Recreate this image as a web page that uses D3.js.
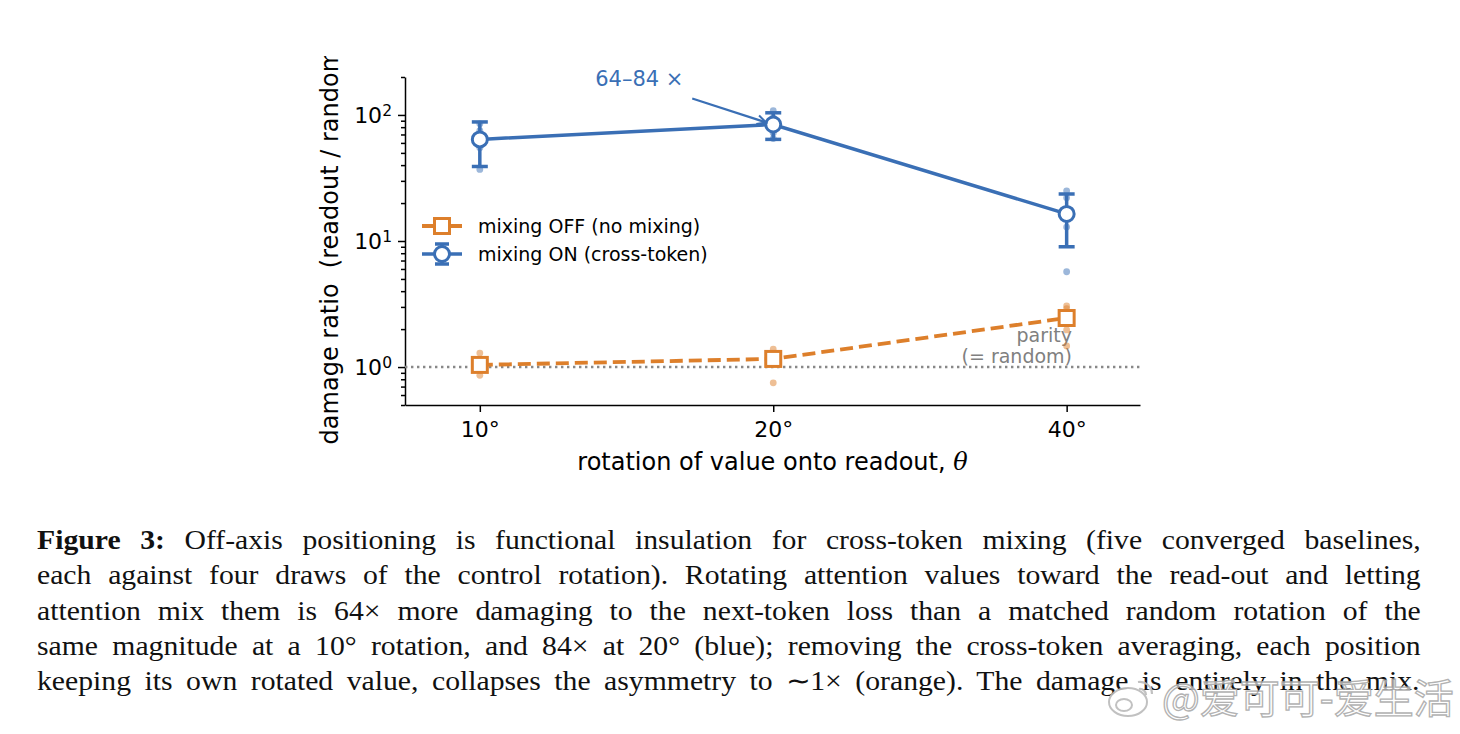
<!DOCTYPE html>
<meta charset="utf-8">
<style>
body { margin: 0; background: #fff; }
svg text { font-family: "DejaVu Sans", sans-serif; }
.caption { font-family: "Liberation Serif", serif; font-size: 27px; fill: #111; }
.axis path, .axis line { stroke: #000; stroke-width: 1.5px; }
.axis text { font-family: "DejaVu Sans", sans-serif; font-size: 22px; fill: #000; }
</style>
<svg width="1460" height="734"></svg>
<script src="https://d3js.org/d3.v7.min.js"></script>
<script>

var angles = ["10°", "20°", "40°"];
var mixOnMean = [64, 84, 16.4];
var mixOnLow = [39, 64, 9.0];
var mixOnHigh = [88, 104, 23.6];
var mixOnRuns = [[37, 55, 68, 75, 85], [108, 95, 80, 72, 65], [25, 22, 17, 12.9, 5.7]];
var mixOffMean = [1.04, 1.16, 2.45];
var mixOffRuns = [[1.29, 1.1, 1.0, 0.95, 0.86], [1.39, 1.2, 1.15, 1.1, 0.75], [3.05, 2.9, 2.6, 1.97, 1.47]];
var yMajor = [1, 10, 100];
var yExp = ["0", "1", "2"];
var legendLabels = ["mixing OFF (no mixing)", "mixing ON (cross-token)"];

var captionLines = [
  ["Figure 3:", " Off-axis positioning is functional insulation for cross-token mixing (five converged baselines,"],
  ["", "each against four draws of the control rotation). Rotating attention values toward the read-out and letting"],
  ["", "attention mix them is 64× more damaging to the next-token loss than a matched random rotation of the"],
  ["", "same magnitude at a 10° rotation, and 84× at 20° (blue); removing the cross-token averaging, each position"],
  ["", "keeping its own rotated value, collapses the asymmetry to ∼1× (orange). The damage is entirely in the mix."]
];

var blue = "#3a6fb5",
    orange = "#dd7f2b";

var svg = d3.select("svg"),
    plotLeft = 405, plotRight = 1140, plotTop = 77, plotBottom = 405;

var x = d3.scaleLinear().domain([-0.255, 2.25]).range([plotLeft, plotRight]);
var y = d3.scaleLog().domain([0.5, 200]).range([plotBottom, plotTop]);

// minor ticks on the log axis
var minor = [];
[0.1, 1, 10, 100].forEach(function(b) {
  for (var k = 2; k <= 9; k++) {
    var v = b * k;
    if (v >= 0.5 && v <= 200) minor.push(v);
  }
});

svg.append("g").attr("class", "axis")
  .attr("transform", "translate(" + plotLeft + ",0)")
  .call(d3.axisLeft(y).tickValues(minor).tickSize(4).tickFormat(""))
  .select(".domain").remove();

var yAxis = svg.append("g").attr("class", "axis")
  .attr("transform", "translate(" + plotLeft + ",0)")
  .call(d3.axisLeft(y).tickValues(yMajor).tickSize(7).tickSizeOuter(0).tickFormat(""));

yAxis.selectAll(".tick").append("text")
  .attr("x", -13).attr("dy", "0.35em").attr("text-anchor", "end")
  .each(function(d, i) {
    var t = d3.select(this);
    t.append("tspan").text("10");
    t.append("tspan").attr("dy", "-0.45em").style("font-size", "15.5px").text(yExp[i]);
  });

var xAxis = svg.append("g").attr("class", "axis")
  .attr("transform", "translate(0," + plotBottom + ")")
  .call(d3.axisBottom(x).tickValues([0, 1, 2]).tickSize(7).tickSizeOuter(0)
    .tickFormat(function(i) { return angles[i]; }));
xAxis.selectAll(".tick text").attr("dy", "1.0em");

// axis labels
svg.append("text")
  .attr("x", (plotLeft + plotRight) / 2).attr("y", 470)
  .attr("text-anchor", "middle").style("font-size", "24px")
  .html('rotation of value onto readout, <tspan font-style="italic" font-family="DejaVu Serif">θ</tspan>');

svg.append("clipPath").attr("id", "topclip")
  .append("rect").attr("x", 0).attr("y", 56).attr("width", 1460).attr("height", 700);

svg.append("g").attr("clip-path", "url(#topclip)")
  .append("text")
  .attr("transform", "translate(338," + ((plotTop + plotBottom) / 2 + 1) + ") rotate(-90)")
  .attr("text-anchor", "middle").style("font-size", "24px")
  .style("white-space", "pre")
  .text("damage ratio  (readout / random)");

// parity line
svg.append("line")
  .attr("x1", plotLeft).attr("x2", plotRight)
  .attr("y1", y(1)).attr("y2", y(1))
  .attr("stroke", "#888").attr("stroke-width", 2.4)
  .attr("stroke-dasharray", "2.4,3.6");

svg.append("text").attr("x", 1072).attr("y", 342)
  .attr("text-anchor", "end").attr("fill", "#808080").style("font-size", "19px").text("parity");
svg.append("text").attr("x", 1072).attr("y", 363)
  .attr("text-anchor", "end").attr("fill", "#808080").style("font-size", "19px")
  .style("white-space", "pre").text("(= random)");

// individual runs
function runs(data, color) {
  var pts = [];
  data.forEach(function(arr, i) { arr.forEach(function(v) { pts.push([i, v]); }); });
  svg.append("g").selectAll("circle").data(pts).join("circle")
    .attr("cx", function(d) { return x(d[0]); })
    .attr("cy", function(d) { return y(d[1]); })
    .attr("r", 3.4)
    .attr("fill", color).attr("fill-opacity", 0.5);
}
runs(mixOffRuns, orange);
runs(mixOnRuns, blue);

var line = d3.line()
  .x(function(d, i) { return x(i); })
  .y(function(d) { return y(d); });

// mixing OFF
svg.append("path").datum(mixOffMean)
  .attr("d", line).attr("fill", "none")
  .attr("stroke", orange).attr("stroke-width", 3.8)
  .attr("stroke-dasharray", "13,6");

svg.append("g").selectAll("rect").data(mixOffMean).join("rect")
  .attr("x", function(d, i) { return x(i) - 7.5; })
  .attr("y", function(d) { return y(d) - 7.5; })
  .attr("width", 15).attr("height", 15)
  .attr("fill", "#fff").attr("stroke", orange).attr("stroke-width", 3);

// mixing ON
svg.append("path").datum(mixOnMean)
  .attr("d", line).attr("fill", "none")
  .attr("stroke", blue).attr("stroke-width", 3.5);

var eb = svg.append("g").attr("stroke", blue).attr("stroke-width", 3.5);
mixOnMean.forEach(function(m, i) {
  eb.append("line").attr("x1", x(i)).attr("x2", x(i))
    .attr("y1", y(mixOnLow[i])).attr("y2", y(mixOnHigh[i]));
  [mixOnLow[i], mixOnHigh[i]].forEach(function(v) {
    eb.append("line").attr("x1", x(i) - 8).attr("x2", x(i) + 8)
      .attr("y1", y(v)).attr("y2", y(v));
  });
});

svg.append("g").selectAll("circle").data(mixOnMean).join("circle")
  .attr("cx", function(d, i) { return x(i); })
  .attr("cy", function(d) { return y(d); })
  .attr("r", 7.5)
  .attr("fill", "#fff").attr("stroke", blue).attr("stroke-width", 3);

// annotation
svg.append("defs").append("marker")
  .attr("id", "head").attr("viewBox", "-10 -6 12 12")
  .attr("markerWidth", 12).attr("markerHeight", 12)
  .attr("markerUnits", "userSpaceOnUse").attr("orient", "auto")
  .append("path").attr("d", "M-9,-4.5 L0,0 L-9,4.5")
  .attr("fill", "none").attr("stroke", blue).attr("stroke-width", 2);

var tx = x(1), ty = y(mixOnMean[1]);
svg.append("line")
  .attr("x1", tx - 81).attr("y1", ty - 26)
  .attr("x2", tx - 7).attr("y2", ty - 2)
  .attr("stroke", blue).attr("stroke-width", 2.2)
  .attr("marker-end", "url(#head)");
svg.append("text").attr("x", tx - 178).attr("y", ty - 38)
  .attr("fill", blue).style("font-size", "21px").text("64–84 ×");

// legend
var lg = svg.append("g").attr("transform", "translate(422,226)");
var rows = [0, 28];
lg.append("line").attr("x1", 0).attr("x2", 40).attr("y1", rows[0]).attr("y2", rows[0])
  .attr("stroke", orange).attr("stroke-width", 3.8);
lg.append("rect").attr("x", 12.5).attr("y", rows[0] - 7.5).attr("width", 15).attr("height", 15)
  .attr("fill", "#fff").attr("stroke", orange).attr("stroke-width", 3);
lg.append("line").attr("x1", 0).attr("x2", 40).attr("y1", rows[1]).attr("y2", rows[1])
  .attr("stroke", blue).attr("stroke-width", 3.5);
lg.append("line").attr("x1", 20).attr("x2", 20).attr("y1", rows[1] - 10).attr("y2", rows[1] + 10)
  .attr("stroke", blue).attr("stroke-width", 3.5);
[rows[1] - 10, rows[1] + 10].forEach(function(v) {
  lg.append("line").attr("x1", 13).attr("x2", 27).attr("y1", v).attr("y2", v)
    .attr("stroke", blue).attr("stroke-width", 3.5);
});
lg.append("circle").attr("cx", 20).attr("cy", rows[1]).attr("r", 7.5)
  .attr("fill", "#fff").attr("stroke", blue).attr("stroke-width", 3);
lg.selectAll("text.lab").data(legendLabels).join("text")
  .attr("class", "lab")
  .attr("x", 56).attr("y", function(d, i) { return rows[i] + 7; })
  .style("font-size", "19px").text(function(d) { return d; });

// caption, justified to the column width (glyphs widened a little, rest as word spacing)
var capLeft = 37, capWidth = 1384;
captionLines.forEach(function(parts, i) {
  var t = svg.append("text").attr("class", "caption")
    .attr("x", 0).attr("y", 0)
    .style("white-space", "pre");
  if (parts[0]) t.append("tspan").attr("font-weight", "bold").text(parts[0]);
  t.append("tspan").text(parts[1]);
  var len = t.node().getComputedTextLength();
  var sx = Math.min(1.1, capWidth / len);
  var full = parts[0] + parts[1];
  var gaps = (full.trim().match(/ +/g) || []).length;
  if (gaps > 0) t.style("word-spacing", ((capWidth / sx - len) / gaps) + "px");
  t.attr("transform", "translate(" + capLeft + "," + (549 + i * 35.3) + ") scale(" + sx + ",1)");
});

// watermark
var wm = svg.append("g").attr("opacity", 0.9);
wm.append("ellipse").attr("cx", 1128).attr("cy", 702).attr("rx", 19).attr("ry", 14)
  .attr("fill", "#fff").attr("stroke", "#bbb").attr("stroke-width", 2);
wm.append("ellipse").attr("cx", 1124).attr("cy", 705).attr("rx", 8).attr("ry", 6)
  .attr("fill", "none").attr("stroke", "#bbb").attr("stroke-width", 2);
wm.append("path").attr("d", "M1138,682 a12,12 0 0 1 14,12 M1139,689 a6,6 0 0 1 7,6")
  .attr("fill", "none").attr("stroke", "#bbb").attr("stroke-width", 2.2);
wm.append("text").attr("x", 1162).attr("y", 713)
  .style("font-family", "'Noto Sans CJK SC', sans-serif").style("font-size", "40px")
  .attr("fill", "#fff").attr("fill-opacity", 0.75)
  .attr("stroke", "#aaa").attr("stroke-width", 1.3)
  .text("@爱可可-爱生活");

</script>
